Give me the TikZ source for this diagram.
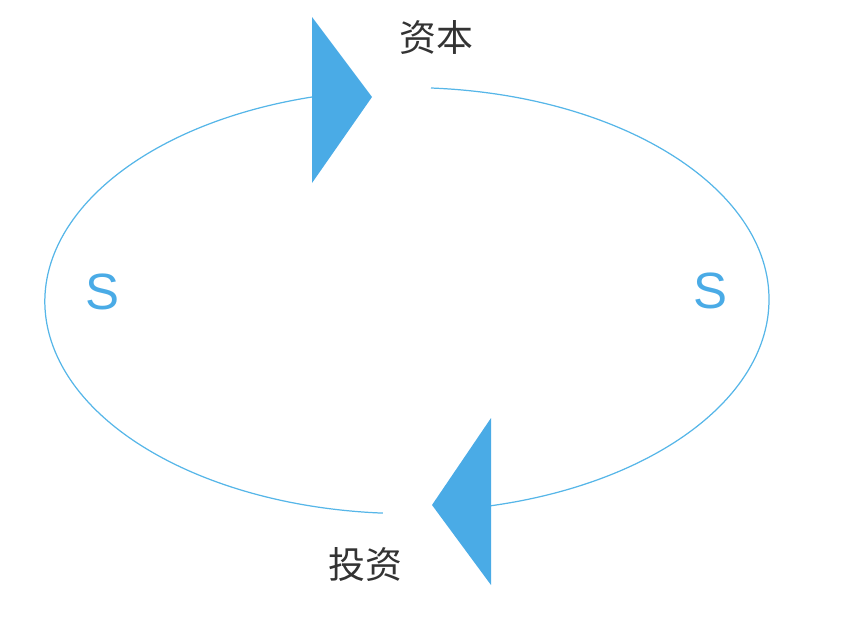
\documentclass[tikz,border=0pt]{standalone}
\usepackage{fontspec}
\setsansfont{Liberation Sans}
\newfontfamily\cjk{Noto Sans CJK SC}
\definecolor{lineblue}{RGB}{86,182,232}
\definecolor{fillblue}{RGB}{74,171,230}
\definecolor{txtgray}{RGB}{51,51,51}
\begin{document}
\begin{tikzpicture}[x=0.01cm,y=-0.01cm,
  cycleline/.style={draw=lineblue,line width=0.35pt},
  headtri/.style={fill=fillblue,draw=none},
  cjklabel/.style={font=\cjk\fontsize{10.5pt}{12pt}\selectfont,text=txtgray,inner sep=0pt},
  slabel/.style={font=\sffamily\fontsize{14.5pt}{16pt}\selectfont,text=fillblue,inner sep=0pt}]
\useasboundingbox (0,0) rectangle (846,624);
% arc end points
\coordinate (la) at (312,97);
\coordinate (ra) at (431,88);
% left arc (through left side)
\draw[cycleline] (la) arc[start angle=-105.2,end angle=-266.2,x radius=362,y radius=212];
% right arc (through right side)
\draw[cycleline] (ra) arc[start angle=-86.2,end angle=76.6,x radius=362,y radius=212];
% arrow heads
\coordinate (t1a) at (312,17);
\coordinate (t1b) at (312,183);
\coordinate (t1c) at (372,97);
\fill[headtri] (t1a) -- (t1c) -- (t1b) -- cycle;
\coordinate (t2a) at (491,418);
\coordinate (t2b) at (491,585);
\coordinate (t2c) at (432,505);
\fill[headtri] (t2a) -- (t2c) -- (t2b) -- cycle;
% labels
\node[cjklabel] (capital) at (436,38) {资本};
\node[cjklabel] (invest) at (365,564) {投资};
\node[slabel] (sleft) at (103,292) {S};
\node[slabel] (sright) at (710,291) {S};
\end{tikzpicture}
\end{document}
